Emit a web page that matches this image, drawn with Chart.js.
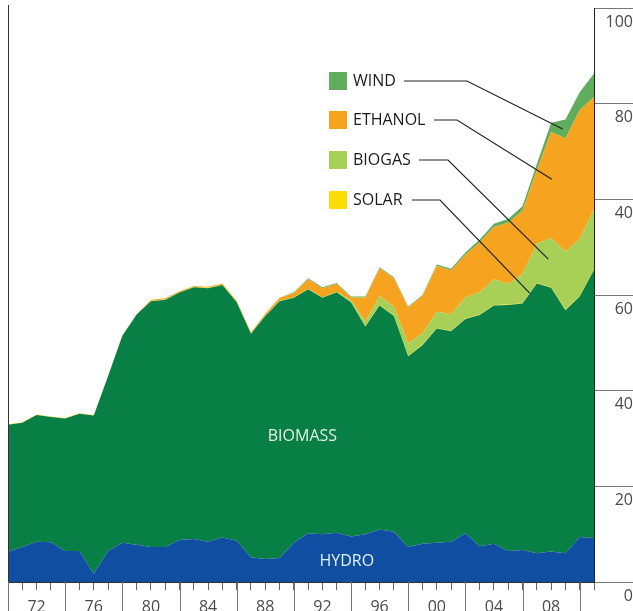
<!DOCTYPE html>
<html>
<head>
<meta charset="utf-8">
<script src="https://cdn.jsdelivr.net/npm/chart.js@4.4.1/dist/chart.umd.min.js"></script>
<style>
  html, body { margin: 0; padding: 0; background: #fff; }
  #wrap { width: 633px; height: 611px; position: relative; }
</style>
</head>
<body>
<div id="wrap"><canvas id="chart"></canvas></div>
<script>
// Renewable energy by source, stacked, 1970-2011
const years = [
  1970, 1971, 1972, 1973, 1974, 1975, 1976, 1977, 1978, 1979,
  1980, 1981, 1982, 1983, 1984, 1985, 1986, 1987, 1988, 1989,
  1990, 1991, 1992, 1993, 1994, 1995, 1996, 1997, 1998, 1999,
  2000, 2001, 2002, 2003, 2004, 2005, 2006, 2007, 2008, 2009,
  2010, 2011
];

const hydro = [
  6.3, 7.3, 8.4, 8.3, 6.5, 6.5, 1.7, 6.5, 8.2, 7.8,
  7.3, 7.3, 8.8, 9.0, 8.4, 9.3, 8.6, 5.2, 4.8, 5.0,
  8.2, 10.2, 10.0, 10.3, 9.5, 10.0, 11.0, 10.5, 7.3, 8.0,
  8.2, 8.4, 10.2, 7.5, 8.0, 6.5, 6.7, 6.0, 6.4, 6.0,
  9.4, 9.2
];

const biomass = [
  26.6, 26.0, 26.5, 26.2, 27.7, 28.7, 33.1, 36.5, 43.3, 48.1,
  51.4, 51.7, 51.7, 52.6, 53.0, 52.8, 49.9, 46.7, 50.8, 53.7,
  51.2, 51.0, 49.4, 50.3, 49.0, 43.4, 46.8, 45.1, 39.9, 41.5,
  44.8, 44.0, 44.8, 48.3, 49.8, 51.4, 51.5, 56.4, 55.1, 50.8,
  50.3, 56.1
];

const solar = [
  0.1, 0.1, 0.1, 0.1, 0.1, 0.1, 0.1, 0.1, 0.1, 0.1,
  0.1, 0.1, 0.1, 0.1, 0.1, 0.1, 0.1, 0.1, 0.1, 0.1,
  0.1, 0.1, 0.1, 0.1, 0.1, 0.1, 0.1, 0.1, 0.1, 0.1,
  0.1, 0.1, 0.1, 0.1, 0.1, 0.1, 0.1, 0.1, 0.1, 0.1,
  0.1, 0.1
];

const biogas = [
  0, 0, 0, 0, 0, 0, 0, 0, 0, 0,
  0, 0, 0, 0, 0, 0, 0, 0, 0, 0,
  0, 0, 0, 0, 0.3, 1.0, 1.9, 1.9, 2.6, 2.4,
  3.4, 3.5, 4.4, 4.7, 5.4, 4.3, 6.1, 8.2, 10.3, 12.2,
  11.9, 12.6
];

const ethanol = [
  0, 0, 0, 0, 0, 0, 0, 0, 0, 0,
  0.2, 0.2, 0.2, 0.2, 0.2, 0.2, 0.2, 0.2, 0.4, 0.6,
  0.9, 2.0, 1.9, 1.6, 0.6, 5.0, 5.8, 5.9, 7.5, 7.8,
  9.6, 9.1, 8.9, 10.4, 10.9, 12.8, 13.2, 15.4, 22.2, 23.6,
  26.9, 23.4
];

const wind = [
  0, 0, 0, 0, 0, 0, 0, 0, 0, 0,
  0, 0, 0, 0, 0, 0, 0, 0, 0, 0,
  0.2, 0.2, 0.2, 0.2, 0.2, 0.2, 0.2, 0.2, 0.2, 0.2,
  0.3, 0.4, 0.5, 0.6, 0.7, 0.8, 1.0, 1.3, 1.9, 4.0,
  3.8, 4.9
];

// axis labels as printed on the original
const yTickLabels = ["0", "20", "40", "60", "40", "80", "100"];
const xLabelYears = [1972, 1976, 1980, 1984, 1988, 1992, 1996, 2000, 2004, 2008];
const xLabels = ["72", "76", "80", "84", "88", "92", "96", "00", "04", "08"];
const separatorYears = [1970, 1974, 1978, 1982, 1986, 1990, 1994, 1998, 2002, 2006, 2010];

const colors = {
  hydro: "#0f4ea0",
  biomass: "#077f45",
  solar: "#ffdc00",
  biogas: "#a8d056",
  ethanol: "#f6a41f",
  wind: "#5fad5d",
};

const FONT = "'Open Sans', 'Noto Sans', sans-serif";

// legend entries with their leader lines (tip given in year / value)
const legendItems = [
  { label: "WIND", color: colors.wind, top: 72, lineStart: 404, elbow: 467, tip: [2008.8, 94.7] },
  { label: "ETHANOL", color: colors.ethanol, top: 111, lineStart: 434, elbow: 457, tip: [2008.05, 84.2] },
  { label: "BIOGAS", color: colors.biogas, top: 151, lineStart: 419, elbow: 448, tip: [2007.8, 67.5] },
  { label: "SOLAR", color: colors.solar, top: 191, lineStart: 412, elbow: 440, tip: [2006.5, 60.4] },
];

const areaLabels = [
  { text: "BIOMASS", year: 1990.6, value: 30.5 },
  { text: "HYDRO", year: 1993.7, value: 4.2 },
];

function area(label, data, color, fill) {
  return {
    label: label,
    data: data,
    backgroundColor: color,
    borderColor: color,
    borderWidth: 0,
    pointRadius: 0,
    pointHoverRadius: 0,
    tension: 0,
    fill: fill,
  };
}

const overlay = {
  id: "overlay",
  afterDraw(chart) {
    const { ctx, chartArea, scales } = chart;
    const x = scales.x;
    const y = scales.y;
    const px = (yr) => x.getPixelForValue(yr - years[0]);
    ctx.save();

    // left frame line
    ctx.strokeStyle = "#333";
    ctx.lineWidth = 1;
    ctx.beginPath();
    ctx.moveTo(Math.round(chartArea.left) + 0.5, chartArea.top - 3);
    ctx.lineTo(Math.round(chartArea.left) + 0.5, chart.height);
    ctx.stroke();

    // long separators under the x axis
    ctx.strokeStyle = "#777";
    ctx.beginPath();
    separatorYears.forEach((yr) => {
      const sx = Math.round(px(yr)) + 0.5;
      ctx.moveTo(sx, chartArea.bottom);
      ctx.lineTo(sx, chart.height);
    });
    ctx.stroke();

    // labels inside the areas
    ctx.fillStyle = "#e4f1e6";
    ctx.font = "16px " + FONT;
    ctx.textAlign = "center";
    ctx.textBaseline = "middle";
    areaLabels.forEach((a) => {
      ctx.fillText(a.text, px(a.year), y.getPixelForValue(a.value));
    });

    // legend with leader lines
    ctx.textAlign = "left";
    legendItems.forEach((it) => {
      ctx.fillStyle = it.color;
      ctx.fillRect(329, it.top, 18, 18);
      ctx.fillStyle = "#1b1b1b";
      ctx.fillText(it.label, 353, it.top + 9.5);

      const ly = it.top + 9;
      ctx.strokeStyle = "#222";
      ctx.lineWidth = 1.2;
      ctx.beginPath();
      ctx.moveTo(it.lineStart, ly);
      ctx.lineTo(it.elbow, ly);
      ctx.lineTo(px(it.tip[0]), y.getPixelForValue(it.tip[1]));
      ctx.stroke();
    });

    ctx.restore();
  },
};

new Chart(document.getElementById("chart"), {
  type: "line",
  data: {
    labels: years,
    datasets: [
      area("HYDRO", hydro, colors.hydro, "origin"),
      area("BIOMASS", biomass, colors.biomass, "-1"),
      area("SOLAR", solar, colors.solar, "-1"),
      area("BIOGAS", biogas, colors.biogas, "-1"),
      area("ETHANOL", ethanol, colors.ethanol, "-1"),
      area("WIND", wind, colors.wind, "-1"),
    ],
  },
  options: {
    responsive: true,
    maintainAspectRatio: false,
    animation: false,
    layout: {
      padding: { left: 7, top: 8, right: 0, bottom: 0 },
    },
    plugins: {
      legend: { display: false },
      tooltip: { enabled: false },
    },
    scales: {
      x: {
        type: "category",
        offset: false,
        afterFit: (s) => { s.height = 29; },
        border: { display: true, color: "#333", width: 1 },
        grid: { drawOnChartArea: false, drawTicks: true, tickLength: 8, color: "#666", offset: false },
        ticks: {
          autoSkip: false,
          maxRotation: 0,
          padding: 8,
          color: "#4a4a4a",
          font: { family: FONT, size: 16 },
          callback: function (value, index) {
            const i = xLabelYears.indexOf(years[index]);
            return i >= 0 ? xLabels[i] : "";
          },
        },
      },
      y: {
        position: "right",
        stacked: true,
        min: 0,
        max: 120,
        afterFit: (s) => { s.width = 39; },
        border: { display: true, color: "#222", width: 1 },
        grid: { drawOnChartArea: false, drawTicks: true, tickLength: 39, color: "#777" },
        ticks: {
          stepSize: 20,
          crossAlign: "far",
          padding: -30,
          labelOffset: 14,
          color: "#4a4a4a",
          font: { family: FONT, size: 16 },
          callback: function (value, index) {
            return yTickLabels[index];
          },
        },
      },
    },
  },
  plugins: [overlay],
});
</script>
</body>
</html>
